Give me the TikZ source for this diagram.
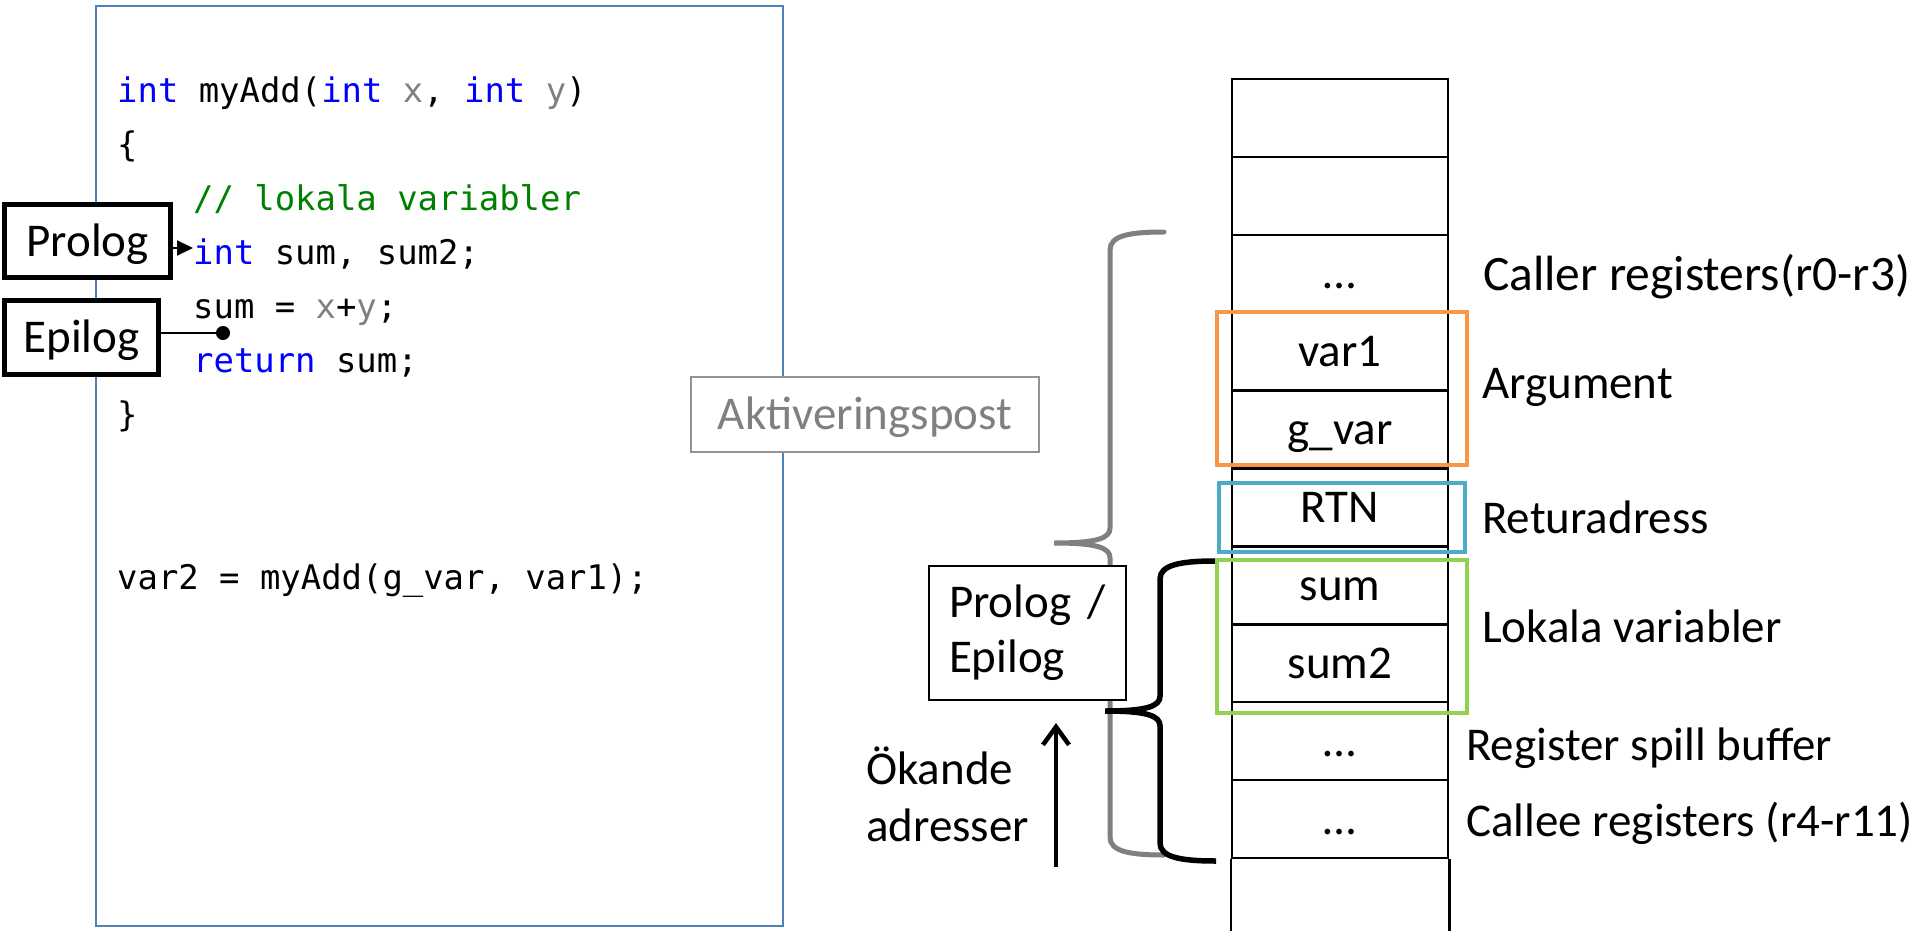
\documentclass[tikz,border=0pt]{standalone}
\usepackage{fontspec}
\setmainfont{Carlito}
\newfontfamily\codefont{DejaVu Sans Mono}
\usetikzlibrary{arrows.meta}

\definecolor{kwblue}{HTML}{0000FF}
\definecolor{cmtgreen}{HTML}{008000}
\definecolor{argorange}{HTML}{F79646}
\definecolor{rtnaqua}{HTML}{4BACC6}
\definecolor{locgreen}{HTML}{92D050}
\definecolor{codeframe}{HTML}{4F81BD}
\definecolor{recgray}{HTML}{808080}

\newcommand{\kw}[1]{\textcolor{kwblue}{#1}}
\newcommand{\prm}[1]{\textcolor{recgray}{#1}}

\tikzset{
    code/.style={anchor=base west, inner sep=0pt, font=\codefont\fontsize{33.9}{40}\selectfont},
    even/.style={text height=40pt, text depth=10pt},
    cell/.style={draw, line width=2.5pt, even, inner sep=0pt, minimum width=216pt, minimum height=77.9pt},
    tagbox/.style={draw, line width=5pt, fill=white, even, inner sep=0pt},
    side/.style={anchor=base west, inner sep=0pt},
    frame/.style={line width=4.5pt},
}

\begin{document}
\begin{tikzpicture}[x=1pt, y=-1pt, font=\fontsize{47}{55}\selectfont]
    \useasboundingbox (0,0) rectangle (1920,931);

    % source code
    \draw[codeframe, line width=2pt] (96,6) rectangle (783,926);
    \node[code] (l1) at (117,103) {\kw{int} myAdd(\kw{int} \prm{x}, \kw{int} \prm{y})};
    \node[code] (l2) at (117,157) {\{};
    \node[code] (l3) at (193,210) {\textcolor{cmtgreen}{// lokala variabler}};
    \node[code] (l4) at (193,264) {\kw{int} sum, sum2;};
    \node[code] (l5) at (193,318) {sum = \prm{x}+\prm{y};};
    \node[code] (l6) at (193,372) {\kw{return} sum;};
    \node[code] (l7) at (117,426) {\}};
    \node[code] (l8) at (117,589) {var2 = myAdd(g\_var, var1);};

    \node[draw=recgray!85, line width=2.5pt, fill=white, text=recgray, even,
          minimum width=348pt, minimum height=75pt] (akt) at (865,414.5) {Aktiveringspost};

    \node[tagbox, minimum width=166pt, minimum height=73pt] (prolog) at (87.5,241) {Prolog};
    \node[tagbox, minimum width=154pt, minimum height=74pt] (epilog) at (81.5,337.5) {Epilog};
    \coordinate (protip) at (193,248);
    \coordinate (epidot) at (230,333);
    \draw[line width=2pt, -{Triangle[length=16pt, width=15pt]}] (prolog.east |- protip) -- (protip);
    \draw[line width=2pt, -{Circle[length=14pt]}] (epilog.east |- epidot) -- (epidot);

    % activation record brace
    \draw[recgray, line width=5pt, line cap=round]
        (1164,232) .. controls (1128,232) and (1110,236) .. (1110,250) -- (1110,528)
        .. controls (1110,538) and (1098,543) .. (1054,543)
        .. controls (1098,543) and (1110,548) .. (1110,558) -- (1110,837)
        .. controls (1110,851) and (1128,855) .. (1164,855);

    \node[draw, line width=2pt, fill=white, align=left, text width=157pt, inner xsep=20pt,
          minimum height=134pt] (prep) at (1027.5,633) {Prolog /\\Epilog};

    \draw[line width=5.5pt]
        (1216,561) .. controls (1180,561) and (1160,565) .. (1160,579) -- (1160,696)
        .. controls (1160,706) and (1148,711) .. (1105,711)
        .. controls (1148,711) and (1160,716) .. (1160,726) -- (1160,843)
        .. controls (1160,857) and (1180,861) .. (1216,861);

    \node[anchor=north west, align=left, inner sep=0pt] (grow) at (866,747) {Ökande\\[2pt]adresser};
    \coordinate (growfoot) at (1056,867);
    \coordinate (growtip) at (1056,723);
    \draw[line width=4.5pt, -{Straight Barb[length=18pt, width=26pt]}] (growfoot) -- (growtip);

    % the stack
    \foreach \txt [count=\i from 0] in {{}, {}, …, var1, g\_var, RTN, sum, sum2, …, …}
        \node[cell] (c\i) at (1340, {117.95+77.9*\i}) {\txt};
    \draw[line width=2.5pt] (c9.south west) -- ++(0,80);
    \draw[line width=2.5pt] (c9.south east) -- ++(0,80);

    \draw[frame, argorange] (1217,312) rectangle (1467,465);
    \draw[frame, rtnaqua] (1219,483) rectangle (1465,552);
    \draw[frame, locgreen] (1217,560) rectangle (1467,713);

    \node[side, font=\fontsize{49.5}{55}\selectfont] (caller) at (1483,290) {Caller registers(r0-r3)};
    \node[side] (args) at (1482,398) {Argument};
    \node[side] (ret) at (1482,533) {Returadress};
    \node[side] (locals) at (1482,642) {Lokala variabler};
    \node[side] (spill) at (1466,760) {Register spill buffer};
    \node[side] (callee) at (1466,836) {Callee registers (r4-r11)};
\end{tikzpicture}
\end{document}
